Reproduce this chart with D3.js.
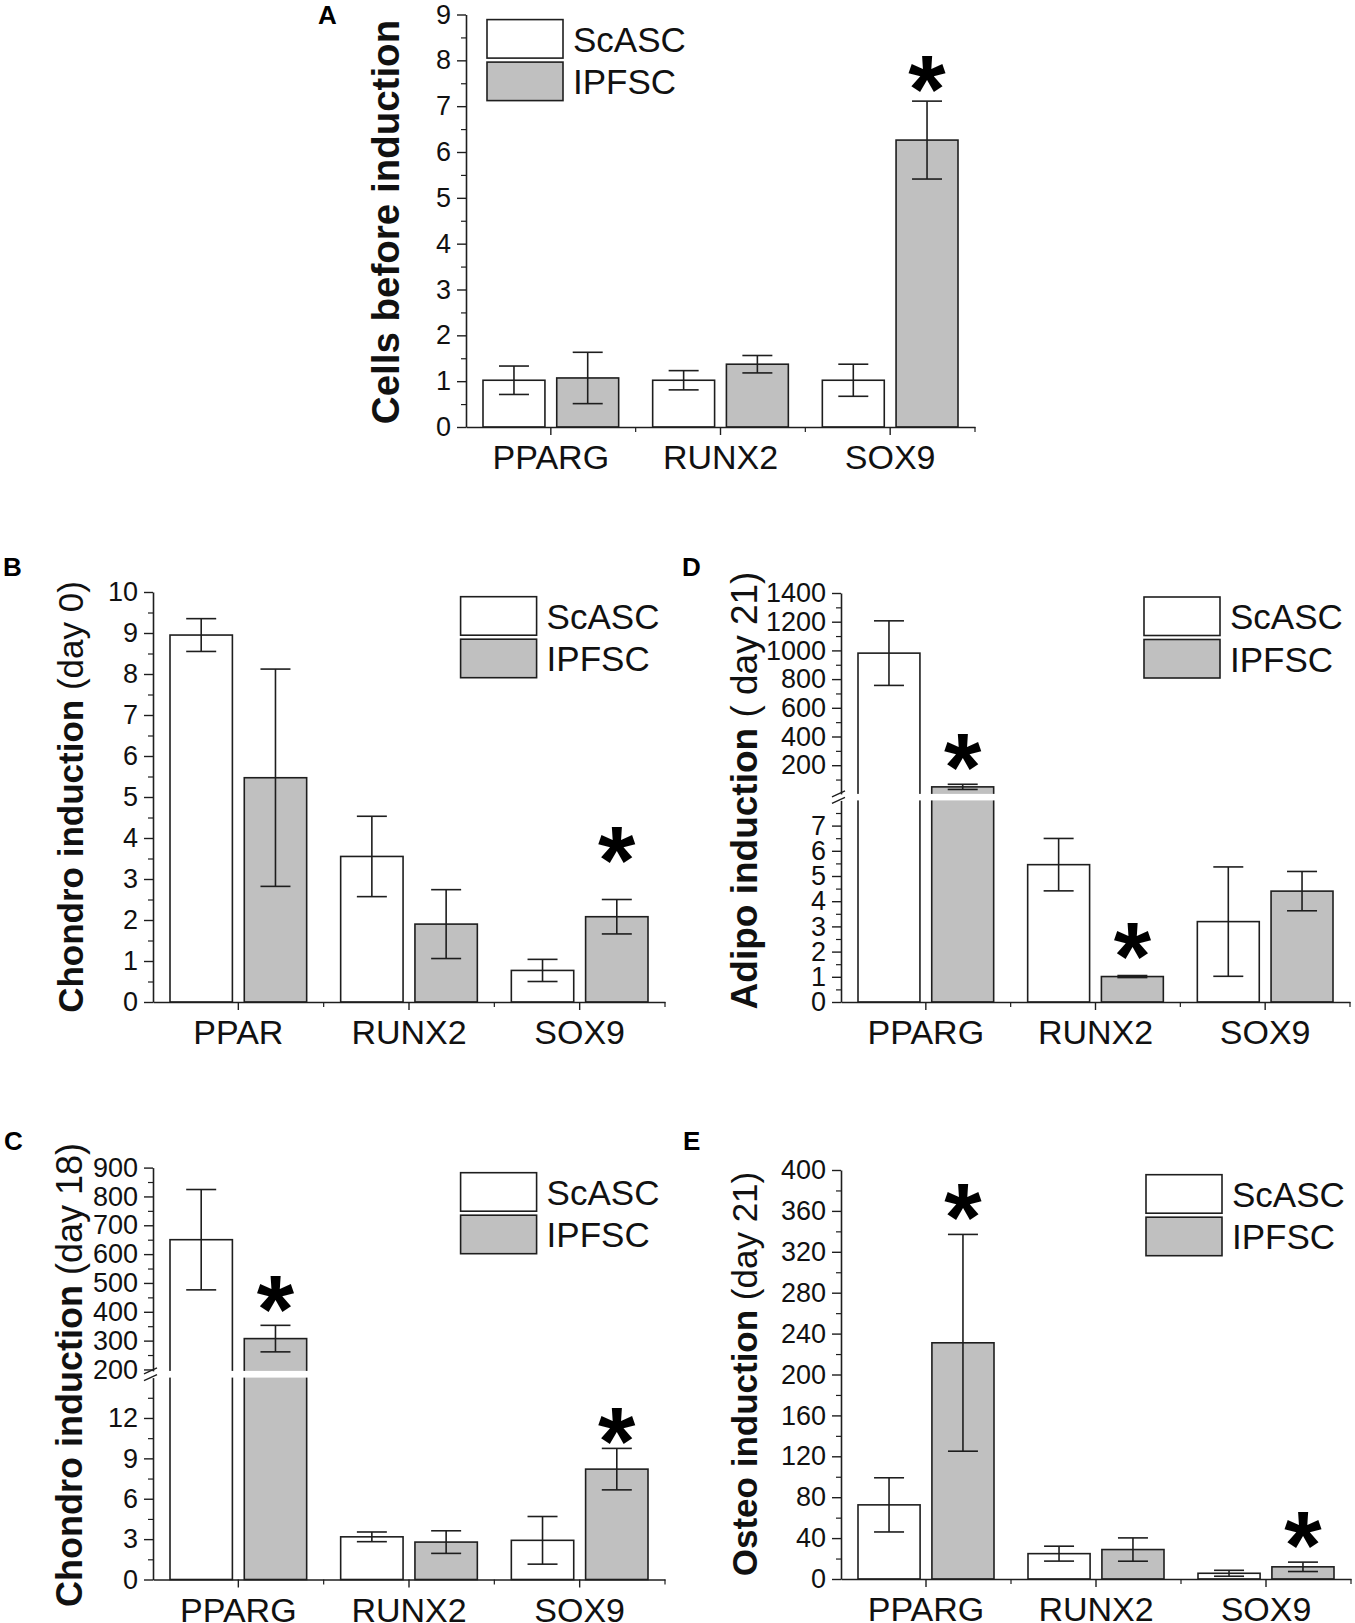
<!DOCTYPE html>
<html>
<head>
<meta charset="utf-8">
<script src="https://cdn.jsdelivr.net/npm/d3@7"></script>
<style>
  body { margin: 0; background: #fff; }
  svg { display: block; font-family: "Liberation Sans", Arial, sans-serif; }
</style>
</head>
<body>
<div class="fig"></div>
<script>
// ---- data ----
var series = ["ScASC", "IPFSC"];
var catsA = ["PPARG", "RUNX2", "SOX9"];
var catsB = ["PPAR", "RUNX2", "SOX9"];

// A: cells before induction
var scascA = [1.02, 1.02, 1.02];
var scascErrA = [0.31, 0.21, 0.35];
var ipfscA = [1.07, 1.37, 6.26];
var ipfscErrA = [0.56, 0.19, 0.85];
var ticksA = [0, 1, 2, 3, 4, 5, 6, 7, 8, 9];

// B: chondro induction (day 0)
var scascB = [8.95, 3.55, 0.77];
var scascErrB = [0.40, 0.98, 0.27];
var ipfscB = [5.47, 1.90, 2.08];
var ipfscErrB = [2.65, 0.84, 0.42];
var ticksB = [0, 1, 2, 3, 4, 5, 6, 7, 8, 9, 10];

// D: adipo induction (day 21), broken axis
var scascD = [981, 5.45, 3.19];
var scascErrD = [225, 1.04, 2.17];
var ipfscD = [49, 1.01, 4.40];
var ipfscErrD = [18, 0.04, 0.78];
var ticksDlow = [0, 1, 2, 3, 4, 5, 6, 7];
var ticksDhigh = [200, 400, 600, 800, 1000, 1200, 1400];

// C: chondro induction (day 18), broken axis
var scascC = [650, 3.17, 2.91];
var scascErrC = [174, 0.36, 1.77];
var ipfscC = [307, 2.78, 8.2];
var ipfscErrC = [46, 0.84, 1.54];
var ticksClow = [0, 3, 6, 9, 12];
var ticksChigh = [200, 300, 400, 500, 600, 700, 800, 900];

// E: osteo induction (day 21)
var scascE = [72.5, 24.8, 5.6];
var scascErrE = [26.5, 7.3, 2.9];
var ipfscE = [231, 28.8, 11.9];
var ipfscErrE = [106, 11.4, 4.6];
var ticksE = [0, 40, 80, 120, 160, 200, 240, 280, 320, 360, 400];

// ---- layout ----
var panels = [
  {letter: "A", lx: 318, ly: 24, cats: catsA, vals: [scascA, ipfscA], errs: [scascErrA, ipfscErrA],
   x0: 466, x1: 975, base: 427,
   segs: [{dom: [0, 9], rng: [427, 14.5], major: ticksA, minor: d3.range(0.5, 9, 1)}],
   title: ["Cells before induction", ""], tx: 399, ty: 222, tsize: 38.5,
   legend: [487, 19.6], stars: [{c: 2, dy: -30}]},
  {letter: "B", lx: 3, ly: 576, cats: catsB, vals: [scascB, ipfscB], errs: [scascErrB, ipfscErrB],
   x0: 153, x1: 665, base: 1002,
   segs: [{dom: [0, 10], rng: [1002, 592], major: ticksB, minor: d3.range(0.5, 10, 1)}],
   title: ["Chondro induction", " (day 0)"], tx: 83, ty: 797, tsize: 35,
   legend: [460.6, 596.7], stars: [{c: 2, dy: -57}]},
  {letter: "D", lx: 682, ly: 576, cats: catsA, vals: [scascD, ipfscD], errs: [scascErrD, ipfscErrD],
   x0: 841, x1: 1350, base: 1002,
   segs: [{dom: [0, 8], rng: [1002, 800.4], major: ticksDlow, minor: d3.range(0.5, 8, 1)},
          {dom: [0, 1400], rng: [793.9, 593], major: ticksDhigh, minor: d3.range(100, 1400, 200)}],
   title: ["Adipo induction", " ( day 21)"], tx: 757, ty: 790.5, tsize: 37,
   legend: [1144, 597], stars: [{c: 0, dy: -35}, {c: 1, dy: -37}]},
  {letter: "C", lx: 4, ly: 1150, cats: catsA, vals: [scascC, ipfscC], errs: [scascErrC, ipfscErrC],
   x0: 153, x1: 665, base: 1579.5,
   segs: [{dom: [0, 15], rng: [1579.5, 1377.6], major: ticksClow, minor: d3.range(1.5, 15, 3)},
          {dom: [195, 900], rng: [1370.9, 1167.6], major: ticksChigh, minor: d3.range(250, 900, 100)}],
   title: ["Chondro induction", " (day 18)"], tx: 82, ty: 1375, tsize: 36,
   legend: [460.6, 1172.7], stars: [{c: 0, dy: -34}, {c: 2, dy: -25}]},
  {letter: "E", lx: 683, ly: 1150, cats: catsA, vals: [scascE, ipfscE], errs: [scascErrE, ipfscErrE],
   x0: 841, x1: 1351, base: 1579,
   segs: [{dom: [0, 400], rng: [1579, 1170], major: ticksE, minor: d3.range(20, 400, 40)}],
   title: ["Osteo induction", " (day 21)"], tx: 757, ty: 1374, tsize: 35,
   legend: [1146, 1174.7], stars: [{c: 0, dy: -35}, {c: 2, dy: -35}]}
];

var fills = ["#ffffff", "#c0c0c0"];
var ink = "#1e1e1e";
var starSize = 96;

var svg = d3.select(".fig").append("svg")
  .attr("width", 1355)
  .attr("height", 1623);

panels.forEach(function(p) {
  var g = svg.append("g");

  p.segs.forEach(function(s) {
    s.scale = d3.scaleLinear().domain(s.dom).range(s.rng);
  });
  var y = function(v) {
    if (p.segs.length === 1 || v <= p.segs[0].dom[1]) return p.segs[0].scale(v);
    return p.segs[1].scale(v);
  };

  var x = d3.scaleBand().domain(p.cats).range([p.x0, p.x1]);
  var bw = x.bandwidth();
  var xs = d3.scaleBand().domain(series).range([17, bw - 17]).paddingInner(0.16);

  var rows = [];
  p.cats.forEach(function(c, ci) {
    series.forEach(function(s, si) {
      rows.push({cat: c, ci: ci, ser: s, si: si, v: p.vals[si][ci], e: p.errs[si][ci]});
    });
  });

  // bars
  g.selectAll("rect.bar")
    .data(rows)
    .enter()
    .append("rect")
    .attr("class", "bar")
    .attr("x", function(d) { return x(d.cat) + xs(d.ser); })
    .attr("width", xs.bandwidth())
    .attr("y", function(d) { return y(d.v); })
    .attr("height", function(d) { return y(0) - y(d.v); })
    .style("fill", function(d) { return fills[d.si]; })
    .style("stroke", ink)
    .style("stroke-width", 1.6);

  // gap of the broken axis
  if (p.segs.length > 1) {
    var gTop = p.segs[1].rng[0], gBot = p.segs[0].rng[1];
    g.append("rect")
      .attr("x", p.x0 - 3)
      .attr("y", gTop)
      .attr("width", p.x1 - p.x0 + 3)
      .attr("height", gBot - gTop)
      .style("fill", "#fff");
  }

  // error bars
  var cap = 15;
  var eb = g.selectAll("g.err")
    .data(rows)
    .enter()
    .append("g")
    .attr("class", "err")
    .attr("transform", function(d) {
      return "translate(" + (x(d.cat) + xs(d.ser) + xs.bandwidth() / 2) + ",0)";
    })
    .style("stroke", ink)
    .style("stroke-width", 1.6);
  eb.append("line")
    .attr("y1", function(d) { return y(d.v + d.e); })
    .attr("y2", function(d) { return y(d.v - d.e); });
  eb.append("line")
    .attr("x1", -cap).attr("x2", cap)
    .attr("y1", function(d) { return y(d.v + d.e); })
    .attr("y2", function(d) { return y(d.v + d.e); });
  eb.append("line")
    .attr("x1", -cap).attr("x2", cap)
    .attr("y1", function(d) { return y(d.v - d.e); })
    .attr("y2", function(d) { return y(d.v - d.e); });

  // y axes (one per segment), with minor ticks
  p.segs.forEach(function(s) {
    var ax = g.append("g")
      .attr("transform", "translate(" + p.x0 + ",0)")
      .style("color", ink)
      .call(d3.axisLeft(s.scale).tickValues(s.major).tickFormat(d3.format("d"))
        .tickSize(9).tickSizeOuter(0).tickPadding(6));
    ax.selectAll("text").style("font-size", "27px").style("fill", "#111");
    ax.select(".domain").style("stroke-width", 1.6);
    ax.selectAll(".tick line").style("stroke-width", 1.4);
    var mn = g.append("g")
      .attr("transform", "translate(" + p.x0 + ",0)")
      .style("color", ink)
      .call(d3.axisLeft(s.scale).tickValues(s.minor).tickSize(5).tickFormat(""));
    mn.select(".domain").remove();
    mn.selectAll(".tick line").style("stroke-width", 1.2);
  });

  // break marks
  if (p.segs.length > 1) {
    [p.segs[1].rng[0], p.segs[0].rng[1]].forEach(function(yy) {
      g.append("line")
        .attr("x1", p.x0 - 9).attr("y1", yy + 3)
        .attr("x2", p.x0 + 4).attr("y2", yy - 3)
        .style("stroke", ink)
        .style("stroke-width", 1.4);
    });
  }

  // x axis
  var xa = g.append("g")
    .attr("transform", "translate(0," + p.base + ")")
    .style("color", ink)
    .call(d3.axisBottom(x).tickSize(8).tickSizeOuter(0).tickPadding(10));
  xa.selectAll("text").style("font-size", "34px").style("fill", "#111");
  xa.select(".domain").style("stroke-width", 1.6);
  xa.selectAll(".tick line").style("stroke-width", 1.4);
  g.selectAll("line.xminor")
    .data(p.cats)
    .enter()
    .append("line")
    .attr("class", "xminor")
    .attr("x1", function(d) { return x(d) + bw; })
    .attr("x2", function(d) { return x(d) + bw; })
    .attr("y1", p.base)
    .attr("y2", p.base + 5)
    .style("stroke", ink)
    .style("stroke-width", 1.2);

  // axis title
  var t = g.append("text")
    .attr("transform", "translate(" + p.tx + "," + p.ty + ") rotate(-90)")
    .style("text-anchor", "middle")
    .style("font-size", p.tsize + "px")
    .style("fill", "#111");
  t.append("tspan").style("font-weight", "bold").text(p.title[0]);
  if (p.title[1]) t.append("tspan").text(p.title[1]);

  // legend
  var lg = g.append("g").attr("transform", "translate(" + p.legend[0] + "," + p.legend[1] + ")");
  lg.selectAll("rect")
    .data(series)
    .enter()
    .append("rect")
    .attr("x", 0)
    .attr("y", function(d, i) { return i * 42.5; })
    .attr("width", 76)
    .attr("height", 38.5)
    .style("fill", function(d, i) { return fills[i]; })
    .style("stroke", ink)
    .style("stroke-width", 1.6);
  lg.selectAll("text")
    .data(series)
    .enter()
    .append("text")
    .attr("x", 86)
    .attr("y", function(d, i) { return 32 + i * 42.5; })
    .style("font-size", "35px")
    .style("fill", "#111")
    .text(function(d) { return d; });

  // significance stars
  g.selectAll("text.star")
    .data(p.stars)
    .enter()
    .append("text")
    .attr("class", "star")
    .attr("x", function(d) { return x(p.cats[d.c]) + xs("IPFSC") + xs.bandwidth() / 2; })
    .attr("y", function(d) {
      var v = p.vals[1][d.c] + p.errs[1][d.c];
      return y(v) + d.dy + starSize * 0.53;
    })
    .style("text-anchor", "middle")
    .style("font-size", starSize + "px")
    .style("font-weight", "bold")
    .style("fill", "#000")
    .text("*");

  // panel letter
  g.append("text")
    .attr("x", p.lx)
    .attr("y", p.ly)
    .style("font-size", "26px")
    .style("font-weight", "bold")
    .style("fill", "#000")
    .text(p.letter);
});
</script>
</body>
</html>
